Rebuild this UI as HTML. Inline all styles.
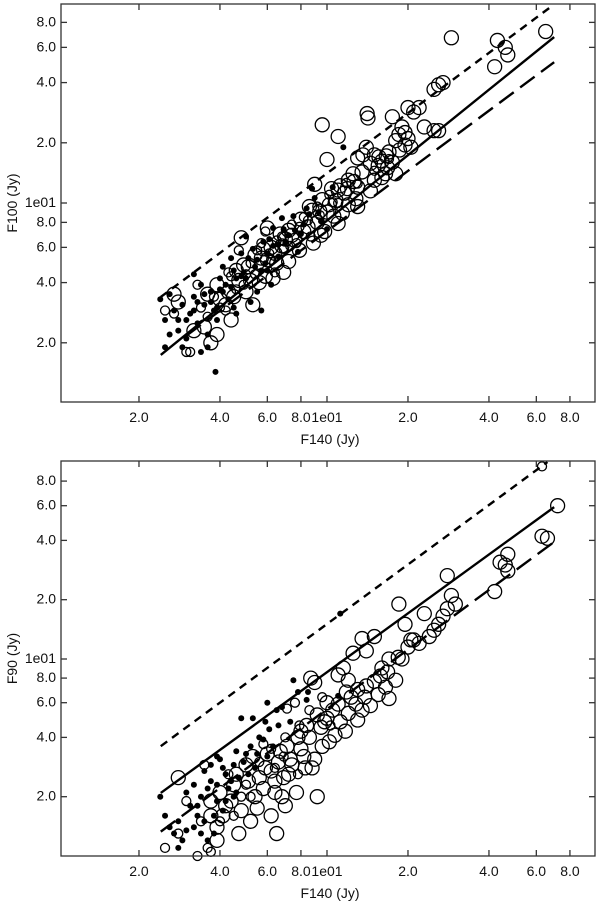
<!DOCTYPE html>
<html><head><meta charset="utf-8"><style>
body{margin:0;background:#fff}
svg{display:block}
text{font-family:"Liberation Sans",sans-serif;font-size:14px;fill:#111}
</style></head><body>
<svg id="fig" width="600" height="904" viewBox="0 0 600 904" xmlns="http://www.w3.org/2000/svg"></svg>
<script>
// x tick values & labels (shared)
const xTicks=[2,4,6,8,10,20,40,60,80];
const xTickLabels=["2.0","4.0","6.0","8.0","1e01","2.0","4.0","6.0","8.0"];
const yTicks=[2,4,6,8,10,20,40,60,80];
const yTickLabels=["2.0","4.0","6.0","8.0","1e01","2.0","4.0","6.0","8.0"];
// top panel points [x, y, type] type 0=filled dot,1=small open,2=large open
const topPoints=[
[2.4,3.3,0],[2.5,2.6,0],[2.6,2.2,0],[2.5,1.9,0],[2.7,2.9,0],[2.8,2.3,0],[2.9,3.1,0],[2.6,3.5,0],[2.8,2.6,0],[3.0,2.1,0],[3.1,2.8,0],[3.2,3.4,0],[3.3,2.5,0],[3.4,3.9,0],[3.5,3.1,0],[3.6,2.2,0],[3.6,1.9,0],[3.85,1.43,0],[3.4,1.8,0],[3.9,2.6,0],[3.7,3.6,0],[4.0,4.2,0],[3.2,4.4,0],[3.9,3.0,0],[2.9,1.9,0],
[2.7,2.8,1],[3.0,1.8,1],[3.1,1.8,1],[3.3,3.9,1],[3.6,2.7,1],[3.8,3.4,1],[2.5,2.9,1],
[2.7,3.5,2],[2.8,3.2,2],[3.5,2.4,2],[3.7,2.0,2],[3.9,2.2,2],[3.6,3.5,2],[4.0,3.3,2],[3.9,3.9,2],
[4.2,3.9,0],[4.5,4.6,0],[4.3,3.3,0],[4.8,5.6,0],[5.0,4.2,0],[5.3,5.9,0],[5.5,3.6,0],[4.6,2.8,0],[5.8,6.4,0],[6.0,4.6,0],[6.3,7.5,0],[6.6,5.4,0],[6.8,8.4,0],[5.0,6.8,0],[4.4,5.3,0],[5.7,2.9,0],[6.2,3.9,0],[7.0,6.3,0],[4.1,4.8,0],[5.2,3.2,0],
[4.4,4.3,1],[4.9,3.9,1],[5.2,5.0,1],[5.6,4.9,1],[6.1,5.6,1],[6.5,6.5,1],[4.7,5.8,1],[5.9,7.2,1],[6.9,5.9,1],[4.2,2.9,1],[5.4,4.4,1],[6.4,4.5,1],
[4.3,3.6,2],[4.7,4.1,2],[5.0,3.6,2],[5.1,4.8,2],[5.4,5.5,2],[5.6,4.0,2],[6.0,5.2,2],[6.2,6.0,2],[6.5,5.0,2],[6.7,7.0,2],[6.9,4.5,2],[4.8,6.7,2],[5.8,5.9,2],[6.3,4.2,2],[4.5,3.4,2],[7.0,6.6,2],[5.3,3.1,2],[6.0,7.5,2],[4.9,4.9,2],
[7.5,8.6,0],[8.0,7.0,0],[8.4,9.4,0],[9.0,10.6,0],[7.8,5.7,0],[9.5,8.1,0],[10.5,12,0],[11.5,19,0],[8.8,11.8,0],[10,7.4,0],
[7.4,7.8,1],[8.2,8.5,1],[9.2,9.6,1],[10.2,11,1],[11,10,1],[7.7,6.3,1],[8.7,6.8,1],[11.8,12.6,1],
[7.2,7.3,2],[7.6,6.5,2],[8.0,8.3,2],[8.5,7.6,2],[8.8,9.2,2],[9.2,8.0,2],[9.6,10.4,2],[10,9,2],[10.4,11.8,2],[10.8,10.3,2],[11.2,12.2,2],[11.6,11.2,2],[12,13,2],[7.9,5.8,2],[8.9,6.3,2],[9.8,7.2,2],[10.6,8.6,2],[11.4,8.9,2],[9,12.4,2],[10,16.5,2],[9.6,24.6,2],[11,21.5,2],[12,9.8,2],
[12.5,14,2],[13,16.8,2],[13.6,17.4,2],[14,19,2],[14.1,28,2],[14.2,26.6,2],[15,13,2],[15.5,15.4,2],[16,16.2,2],[16.5,14,2],[17,18,2],[17.5,16,2],[18,20.5,2],[18.5,22,2],[19,24,2],[19.5,19.5,2],[20,21,2],[20.5,19,2],[17.5,27,2],[21,28.5,2],[22,30,2],[25,37,2],[26,39,2],[27,40,2],[25,23,2],[26,23,2],[13,12,2],[12.8,10.5,2],[14.5,11.5,2],[16,13.4,2],[15,17.4,2],[18,14,2],[16.8,15,2],[20,30,2],
[13,12.5,1],[15,14.5,1],[17,16.6,1],
[29,67,2],[43,65,2],[46,60,2],[47,55,2],[42,48,2],[65,72,2],
[3.0,2.6,0],[3.2,2.9,0],[3.5,3.5,0],[3.7,3.2,0],[4.1,3.6,0],[4.4,3.8,0],[4.6,4.2,0],[4.9,4.5,0],[5.1,5.3,0],[5.5,5.2,0],[5.7,4.6,0],[6.0,5.6,0],[6.3,6.1,0],[6.6,6.2,0],[7.2,6.9,0],[7.6,7.3,0],[8.2,7.8,0],[8.6,8.8,0],[9.3,9.0,0],[3.3,3.2,0],[4.0,3.7,0],[4.8,4.3,0],[5.4,4.8,0],[6.1,6.6,0],[6.9,7.4,0],[3.8,2.9,0],[4.5,3.0,0],[5.9,5.0,0],
[3.4,3.0,1],[4.0,3.0,1],[4.6,3.7,1],[5.0,4.4,1],[5.5,5.8,1],[6.2,5.2,1],[6.8,6.8,1],[7.3,6.1,1],[7.9,7.6,1],[8.5,8.2,1],[9.4,8.7,1],[10.5,10.1,1],[4.3,4.5,1],[5.7,6.3,1],
[4.2,3.1,2],[4.6,4.6,2],[5.2,4.1,2],[5.7,5.3,2],[6.4,5.6,2],[6.8,6.1,2],[7.4,6.9,2],[8.2,7.2,2],[8.6,9.6,2],[9.4,9.1,2],[10.2,9.8,2],[11,11.6,2],[11.9,11.8,2],[12.6,12.8,2],[13.5,14.3,2],[14.5,15.8,2],[15.6,17,2],[16.6,17.2,2],[18.6,18.4,2],[19.5,22.5,2],[23,24,2],[3.2,2.3,2],[4.4,2.6,2],[5.9,4.3,2],[7.2,5.1,2],[9.5,6.9,2],[11,7.9,2],[13,9.6,2]
];
// bottom panel points
const botPoints=[
[2.4,2.0,0],[2.5,1.6,0],[2.6,1.4,0],[2.7,1.3,0],[2.9,1.2,0],[2.8,1.5,0],[3.0,2.1,0],[3.1,1.8,0],[3.2,2.3,0],[3.4,2.0,0],[3.3,1.6,0],[3.5,2.7,0],[3.6,2.2,0],[3.8,1.3,0],[3.9,1.9,0],[4.0,3.1,0],[4.2,2.6,0],[4.4,2.4,0],[3.7,2.9,0],[3.9,3.2,0],[4.6,3.4,0],[4.8,5.0,0],[5.0,3.3,0],[5.3,5.0,0],[5.6,4.0,0],[5.9,4.8,0],[6.0,6.0,0],[6.5,5.5,0],[6.8,5.7,0],[7.3,4.8,0],[7.5,7.8,0],[7.8,6.8,0],[8.5,6.8,0],[8.4,6.2,0],[6.3,3.6,0],[5.1,2.6,0],[4.5,2.0,0],[4.1,1.7,0],[11,6.5,0],[11.2,17,0],[3.6,1.2,0],[3.2,1.4,0],[2.8,1.1,0],[3.0,1.35,0],
[3.3,1.8,0],[3.5,1.5,0],[3.7,2.4,0],[3.9,2.3,0],[4.1,2.8,0],[4.3,2.2,0],[4.5,2.9,0],[4.7,2.5,0],[4.9,3.0,0],[5.2,3.6,0],[5.5,3.3,0],[5.8,3.9,0],[6.1,4.4,0],[6.6,4.6,0],[3.4,1.3,0],[3.8,1.6,0],[4.2,1.9,0],[4.6,2.1,0],[5.4,2.8,0],[6.0,3.2,0],
[2.5,1.1,1],[2.8,1.3,1],[3.0,1.9,1],[3.3,1.0,1],[3.4,1.5,1],[3.6,1.1,1],[3.7,1.05,1],[4.0,1.5,1],[4.5,1.6,1],[5.2,2.0,1],[5.8,3.7,1],[6.4,2.8,1],[7.1,5.6,1],[7.6,6.0,1],[8.6,5.5,1],[9.6,6.4,1],[10.3,4.6,1],[3.5,2.9,1],[6.9,3.2,1],[7.8,2.6,1],[63,95,1],
[4.3,2.6,1],[5.0,2.3,1],[5.6,3.0,1],[6.2,3.5,1],[7.0,4.0,1],[7.9,4.6,1],[4.8,2.0,1],
[2.8,2.5,2],[3.7,1.6,2],[3.9,1.4,2],[3.7,1.9,2],[4.0,2.1,2],[4.2,1.8,2],[4.5,2.3,2],[4.8,1.7,2],[5.0,2.9,2],[5.3,3.2,2],[5.6,2.5,2],[5.8,2.2,2],[6.0,3.3,2],[6.2,2.7,2],[6.4,2.1,2],[6.6,3.0,2],[6.9,2.5,2],[7.1,3.6,2],[7.4,2.9,2],[7.7,2.1,2],[8.0,3.5,2],[8.3,2.8,2],[8.6,4.0,2],[9.0,3.1,2],[9.2,2.0,2],[9.5,4.5,2],[9.8,4.8,2],[10.2,3.8,2],[10.7,4.1,2],[11.2,4.8,2],[11.7,4.3,2],[12.0,5.3,2],[12.3,6.4,2],[13,4.9,2],[13.5,5.5,2],[14,7.3,2],[14.5,5.8,2],[15,7.7,2],[15.5,6.6,2],[16.5,7.2,2],[17,6.3,2],[18,7.8,2],[19,10,2],[20,11.5,2],[21,12.5,2],[22,12,2],[24,13,2],[25,14,2],[26,15,2],[27,16.5,2],[28,18,2],[29,21,2],[30,19,2],[28,26.5,2],[23,17,2],[18.5,19,2],[15,13,2],[13.5,12.7,2],[12.5,10.7,2],[14,11,2],[11.5,9,2],[12,7.8,2],[13,7,2],[16,9,2],[17,10,2],[19.5,15,2],[20.5,12.5,2],[42,22,2],[44,31,2],[46,30,2],[47,28,2],[47,34,2],[63,42,2],[66,41,2],[72,60,2],[9,7.6,2],[10,6,2],[8.7,8,2],[8,4.3,2],[6.2,1.6,2],[5.2,1.5,2],[6.5,1.3,2],[7,1.8,2],[5.5,1.75,2],[4.7,1.3,2],[3.9,1.2,2],[11,8.3,2],[10.5,5.5,2],[8.8,2.8,2],
[4.4,1.9,2],[5.1,2.4,2],[5.9,2.8,2],[6.7,3.4,2],[7.3,3.1,2],[7.8,4.0,2],[8.4,4.6,2],[9.2,5.2,2],[10,5.0,2],[11,5.9,2],[11.8,6.8,2],[12.8,5.9,2],[13.8,6.4,2],[15.8,8.2,2],[16.8,8.6,2],[18.4,10.2,2],[6.4,2.4,2],[7.2,2.6,2],[8.2,3.2,2],[9.6,3.6,2],[4.1,1.6,2],[4.6,2.6,2],[5.4,2.0,2],[6.8,2.0,2]
];
// fit lines [x0,y0,x1,y1]
const topSolid=[2.41,1.74,69.9,67.6];
const topUpper=[2.41,3.39,68.6,96.6];
const topLower=[3.0,2.17,69.9,50.6];
const botSolid=[2.41,2.09,69.9,59];
const botUpper=[2.41,3.61,66,100];
const botLower=[2.41,1.33,69.9,39.3];

const NS="http://www.w3.org/2000/svg";
const svg=document.getElementById('fig');
function mk(tag,attrs,parent){const e=document.createElementNS(NS,tag);for(const k in attrs)e.setAttribute(k,attrs[k]);(parent||svg).appendChild(e);return e;}

function panel(cfg){
  const L=61,R=595,T=cfg.top,B=cfg.bottom;
  const xs=v=>327+269*Math.log10(v/10);
  const ys=v=>cfg.y10-cfg.dec*Math.log10(v/10);
  const g=mk('g',{});
  
  
  const cg=mk('g',{},g);
  
  
  cfg.pts.forEach(p=>{
    const cx=xs(p[0]),cy=ys(p[1]);
    if(cy<T||cy>B)return;
    let c;
    if(p[2]===0)c=mk('circle',{cx:cx,cy:cy,r:3,fill:'#000'},cg);
    else c=mk('circle',{cx:cx,cy:cy,r:p[2]===1?4.5:7,fill:'none',stroke:'#000','stroke-width':1.3},cg);
    
    
  });
  const lines=[[cfg.solid,'none','solid-fit-line'],[cfg.upper,'8 6','upper-dashed-line'],[cfg.lower,'18 8','lower-long-dashed-line']];
  lines.forEach(l=>{
    const d=l[0];
    const e=mk('line',{x1:xs(d[0]),y1:ys(d[1]),x2:xs(d[2]),y2:Math.max(T+1,ys(d[3])),stroke:'#000','stroke-width':2.4,'stroke-dasharray':l[1]},g);
    
    
  });
  const f=mk('rect',{x:L,y:T,width:R-L,height:B-T,fill:'none',stroke:'#333','stroke-width':1.3},g);
  
  
  xTicks.forEach((v,i)=>{
    const x=xs(v);
    mk('line',{x1:x,y1:B,x2:x,y2:B-6,stroke:'#333','stroke-width':1.3},g);
    mk('line',{x1:x,y1:T,x2:x,y2:T+6,stroke:'#333','stroke-width':1.3},g);
    const t=mk('text',{x:x,y:B+20,'text-anchor':'middle'},g);
    t.textContent=xTickLabels[i];
    
    
  });
  yTicks.forEach((v,i)=>{
    const y=ys(v);
    if(y<T||y>B)return;
    mk('line',{x1:L,y1:y,x2:L+6,y2:y,stroke:'#333','stroke-width':1.3},g);
    mk('line',{x1:R,y1:y,x2:R-6,y2:y,stroke:'#333','stroke-width':1.3},g);
    const t=mk('text',{x:L-5,y:y+4,'text-anchor':'end'},g);
    t.textContent=yTickLabels[i];
    
    
  });
  const xt=mk('text',{x:330,y:B+42,'text-anchor':'middle'},g);
  xt.textContent='F140 (Jy)';
  
  
  const yc=(T+B)/2;
  const yt=mk('text',{x:17,y:yc,'text-anchor':'middle',transform:'rotate(-90 17 '+yc+')'},g);
  yt.textContent=cfg.ytitle;
  
  
}
panel({name:'top-panel-f100',top:4,bottom:402,y10:203,dec:200,pts:topPoints,solid:topSolid,upper:topUpper,lower:topLower,ytitle:'F100 (Jy)'});
panel({name:'bottom-panel-f90',top:461,bottom:856,y10:659,dec:197,pts:botPoints,solid:botSolid,upper:botUpper,lower:botLower,ytitle:'F90 (Jy)'});
</script>
</body></html>
